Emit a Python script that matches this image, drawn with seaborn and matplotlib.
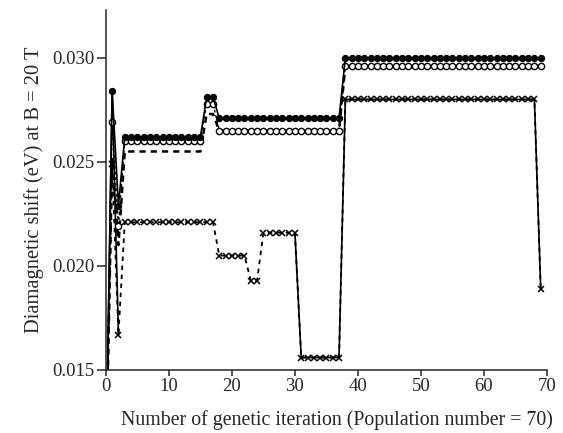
import numpy as np
import pandas as pd
import matplotlib
matplotlib.use("Agg")
import matplotlib.pyplot as plt
import seaborn as sns

# Iterations (population number = 70)
iterations = list(range(70))

# Filled circles, solid line
filled = [0.0100, 0.0284, 0.0229, 0.0262, 0.0262, 0.0262, 0.0262, 0.0262, 0.0262, 0.0262,
          0.0262, 0.0262, 0.0262, 0.0262, 0.0262, 0.0262, 0.0281, 0.0281, 0.0271, 0.0271,
          0.0271, 0.0271, 0.0271, 0.0271, 0.0271, 0.0271, 0.0271, 0.0271, 0.0271, 0.0271,
          0.0271, 0.0271, 0.0271, 0.0271, 0.0271, 0.0271, 0.0271, 0.0271, 0.0300, 0.0300,
          0.0300, 0.0300, 0.0300, 0.0300, 0.0300, 0.0300, 0.0300, 0.0300, 0.0300, 0.0300,
          0.0300, 0.0300, 0.0300, 0.0300, 0.0300, 0.0300, 0.0300, 0.0300, 0.0300, 0.0300,
          0.0300, 0.0300, 0.0300, 0.0300, 0.0300, 0.0300, 0.0300, 0.0300, 0.0300, 0.0300]

# Open circles, dotted line
opened = [0.0100, 0.0269, 0.0219, 0.0260, 0.0260, 0.0260, 0.0260, 0.0260, 0.0260, 0.0260,
          0.0260, 0.0260, 0.0260, 0.0260, 0.0260, 0.0260, 0.0278, 0.0278, 0.0265, 0.0265,
          0.0265, 0.0265, 0.0265, 0.0265, 0.0265, 0.0265, 0.0265, 0.0265, 0.0265, 0.0265,
          0.0265, 0.0265, 0.0265, 0.0265, 0.0265, 0.0265, 0.0265, 0.0265, 0.0296, 0.0296,
          0.0296, 0.0296, 0.0296, 0.0296, 0.0296, 0.0296, 0.0296, 0.0296, 0.0296, 0.0296,
          0.0296, 0.0296, 0.0296, 0.0296, 0.0296, 0.0296, 0.0296, 0.0296, 0.0296, 0.0296,
          0.0296, 0.0296, 0.0296, 0.0296, 0.0296, 0.0296, 0.0296, 0.0296, 0.0296, 0.0296]

# Dashed line, no markers
dashed = [0.0100, 0.0252, 0.0210, 0.0255, 0.0255, 0.0255, 0.0255, 0.0255, 0.0255, 0.0255,
          0.0255, 0.0255, 0.0255, 0.0255, 0.0255, 0.0255, 0.0273, 0.0273, 0.0265, 0.0265,
          0.0265, 0.0265, 0.0265, 0.0265, 0.0265, 0.0265, 0.0265, 0.0265, 0.0265, 0.0265,
          0.0265, 0.0265, 0.0265, 0.0265, 0.0265, 0.0265, 0.0265, 0.0265, 0.0296, 0.0296,
          0.0296, 0.0296, 0.0296, 0.0296, 0.0296, 0.0296, 0.0296, 0.0296, 0.0296, 0.0296,
          0.0296, 0.0296, 0.0296, 0.0296, 0.0296, 0.0296, 0.0296, 0.0296, 0.0296, 0.0296,
          0.0296, 0.0296, 0.0296, 0.0296, 0.0296, 0.0296, 0.0296, 0.0296, 0.0296, 0.0296]

# Crosses
crosses = [0.0100, 0.0249, 0.0167, 0.0221, 0.0221, 0.0221, 0.0221, 0.0221, 0.0221, 0.0221,
           0.0221, 0.0221, 0.0221, 0.0221, 0.0221, 0.0221, 0.0221, 0.0221, 0.0205, 0.0205,
           0.0205, 0.0205, 0.0205, 0.0193, 0.0193, 0.0216, 0.0216, 0.0216, 0.0216, 0.0216,
           0.0216, 0.0156, 0.0156, 0.0156, 0.0156, 0.0156, 0.0156, 0.0156, 0.0280, 0.0280,
           0.0280, 0.0280, 0.0280, 0.0280, 0.0280, 0.0280, 0.0280, 0.0280, 0.0280, 0.0280,
           0.0280, 0.0280, 0.0280, 0.0280, 0.0280, 0.0280, 0.0280, 0.0280, 0.0280, 0.0280,
           0.0280, 0.0280, 0.0280, 0.0280, 0.0280, 0.0280, 0.0280, 0.0280, 0.0280, 0.0189]

# solid trace at the start (first three iterations)
solid_start = [0.0100, 0.0284, 0.0167]
solid_from = 30  # crosses are joined by a solid line from here on

sns.set_style("ticks")
plt.rcParams['font.family'] = ['Liberation Serif', 'DejaVu Serif']
plt.rcParams['axes.linewidth'] = 1.1

fig, ax = plt.subplots(figsize=(5.63, 4.33), dpi=100)
fig.subplots_adjust(left=0.188, right=0.9716, top=0.977, bottom=0.1455)

# crosses, dashed
sns.lineplot(x=iterations, y=crosses, ax=ax, color='black', linewidth=1.3,
             marker='x', markersize=4.3, markeredgewidth=1.1, markeredgecolor='black',
             linestyle=(0, (2.5, 2.5)))
# solid parts
sns.lineplot(x=iterations[:3], y=solid_start, ax=ax, color='black', linewidth=1.2)
sns.lineplot(x=iterations[solid_from:], y=crosses[solid_from:], ax=ax, color='black', linewidth=1.2)

# dashed line, no markers
sns.lineplot(x=iterations, y=dashed, ax=ax, color='black', linewidth=1.8,
             linestyle=(0, (2.5, 2)))
# open circles
sns.lineplot(x=iterations, y=opened, ax=ax, color='black', linewidth=1.0,
             linestyle=(0, (2, 2)), marker='o', markersize=4.5,
             markerfacecolor='white', markeredgecolor='black', markeredgewidth=1.0)
# filled circles
sns.lineplot(x=iterations, y=filled, ax=ax, color='black', linewidth=1.2,
             marker='o', markersize=4.5, markerfacecolor='black', markeredgecolor='black')

ax.set_xlim(0, 70)
ax.set_ylim(0.015, 0.0323)
ax.set_xticks([0, 10, 20, 30, 40, 50, 60, 70])
ax.set_yticks([0.015, 0.020, 0.025, 0.030])
ax.set_yticklabels(['0.015', '0.020', '0.025', '0.030'])
ax.tick_params(axis='y', direction='out', length=6.5, width=1.1, pad=1.5, labelsize=13.5)
ax.tick_params(axis='x', direction='out', length=4.5, width=1.1, pad=1, labelsize=13.5)
sns.despine(ax=ax)

ax.set_xlabel('Number of genetic iteration (Population number = 70)', fontsize=14.3)
ax.xaxis.set_label_coords(0.524, -0.112)
ax.set_ylabel('Diamagnetic shift (eV) at B = 20 T', fontsize=14.8, labelpad=6)

fig.savefig('out.png', dpi=100)
